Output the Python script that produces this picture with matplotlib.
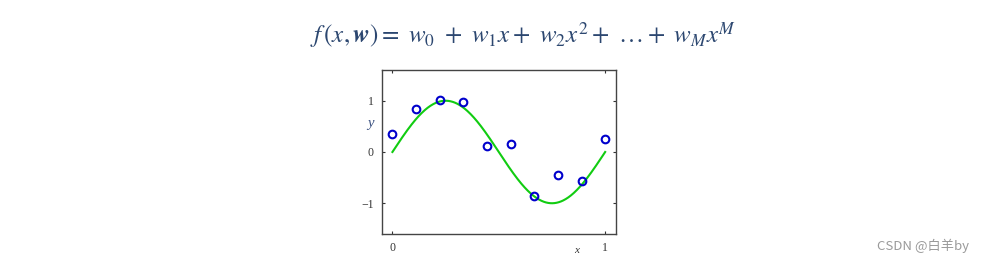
import numpy as np
import matplotlib
matplotlib.use("Agg")
import matplotlib.pyplot as plt

# data
x_points = [0, 1/9, 2/9, 3/9, 4/9, 5/9, 6/9, 7/9, 8/9, 1]
y_points = [0.35, 0.83, 1.01, 0.97, 0.12, 0.16, -0.85, -0.45, -0.57, 0.26]
x_ticks = [0, 1]
y_ticks = [-1, 0, 1]
y_tick_labels = ["\u22121", "0", "1"]

x_curve = np.linspace(0, 1, 400)
y_curve = np.sin(2 * np.pi * x_curve)  # true underlying function

fig = plt.figure(figsize=(9.84, 2.63), dpi=100)
ax = fig.add_axes([0.388, 0.1103, 0.2378, 0.6236])

ax.plot(x_curve, y_curve, color="#11cc11", lw=1.5, zorder=2)
ax.plot(x_points, y_points, "o", mfc="none", mec="#0000cc", ms=5.5, mew=1.5, zorder=3)

ax.set_xlim(-0.05, 1.05)
ax.set_ylim(-1.6, 1.6)
ax.set_xticks(x_ticks)
ax.set_xticklabels([str(t) for t in x_ticks], family="Liberation Serif", fontsize=8.5)
ax.set_yticks(y_ticks)
ax.set_yticklabels(y_tick_labels, family="Liberation Serif", fontsize=8.5)
ax.tick_params(direction="in", length=2, width=0.8, top=True, right=True, colors="#333333", pad=6)
for s in ax.spines.values():
    s.set_color("#444444")
    s.set_linewidth(1.0)

ax.text(-0.105, 0.56, "y", transform=ax.transData, family="Liberation Serif",
        style="italic", fontsize=10.5, color="#3a5080", ha="center", va="center")
ax.text(0.866, -1.92, "x", transform=ax.transData, family="Liberation Serif",
        style="italic", fontsize=8, color="#333333", ha="center", va="center", clip_on=False)

plt.rcParams["mathtext.fontset"] = "stix"
fig.text(0.5315, 0.865,
         r"$f\,(x,\boldsymbol{w})=\ w_0\ +\ w_1x+\ w_2x^2+\ \ldots+\ w_Mx^M$",
         fontsize=18, color="#2c4770", ha="center", va="center")

fig.text(0.985, 0.065, "CSDN @白羊by", family=["Noto Sans CJK SC", "DejaVu Sans"],
         fontsize=9.5, color="#9a9a9a", ha="right", va="center")

fig.savefig("out.png", dpi=100)
